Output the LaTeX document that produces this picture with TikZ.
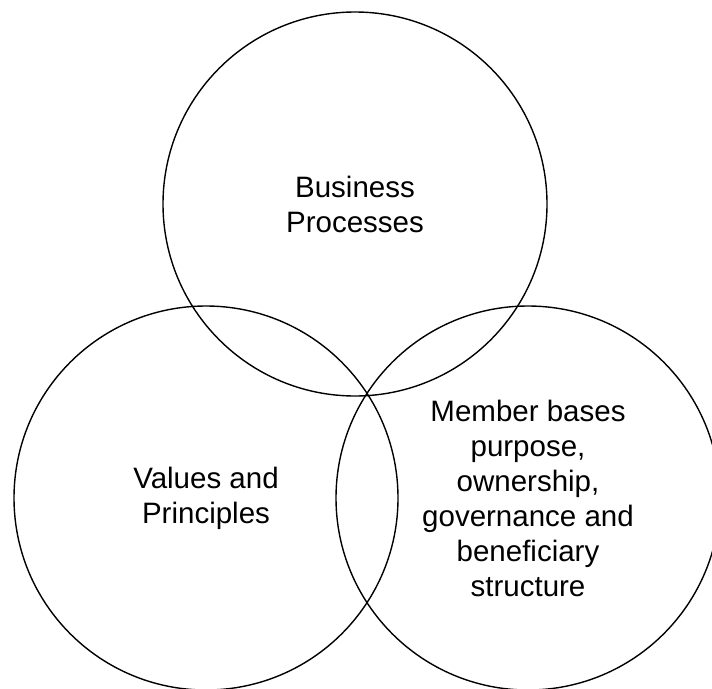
\documentclass[tikz,border=0pt]{standalone}
\usepackage{fontspec}
\setmainfont{Liberation Sans}
\usepackage{tikz}
\usetikzlibrary{positioning}

\begin{document}
\begin{tikzpicture}[
    x=1pt, y=-1pt,
    ring/.style={circle, draw, line width=1.4pt, minimum size=384pt, inner sep=0pt,
        align=center, font=\fontsize{29.5}{35}\selectfont}
]
    \useasboundingbox (0,0) rectangle (712,688);
    \node[ring] (process) at (355,204) {Business\\Processes};
    \node[ring] (values) at (206,498) {Values and\\Principles};
    \node[ring] (member) at (528,498) {Member bases\\purpose,\\ownership,\\governance and\\beneficiary\\structure};
\end{tikzpicture}
\end{document}
